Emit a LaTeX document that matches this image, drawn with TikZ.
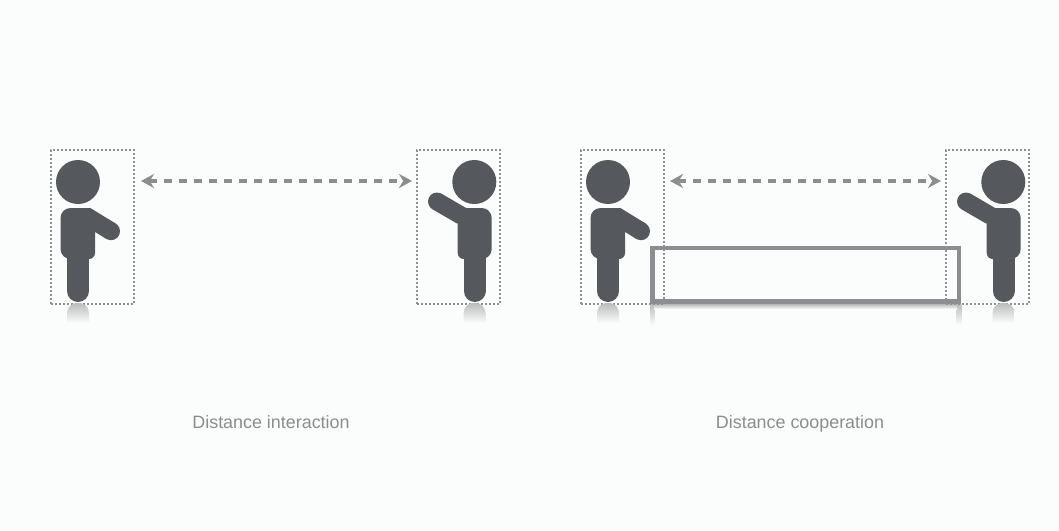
\documentclass[tikz,border=0pt]{standalone}
\usepackage{fontspec}
\setmainfont{Liberation Sans}
\usetikzlibrary{arrows.meta}
\definecolor{paper}{HTML}{FBFDFD}
\definecolor{bodygrey}{HTML}{55595E}
\definecolor{linegrey}{HTML}{8B8E90}
\definecolor{dotgrey}{HTML}{8E9193}
\definecolor{textgrey}{HTML}{8A8D8F}
\tikzset{
  framebox/.style = {draw=dotgrey, line width=2pt, dash pattern=on 2pt off 2pt,
                   minimum width=83pt, minimum height=154pt, inner sep=0pt},
  flow/.style   = {{Stealth[length=13pt,width=14pt]}-{Stealth[length=13pt,width=14pt]},
                   draw=linegrey, line width=3.2pt, dash pattern=on 8pt off 7pt},
  tablebox/.style = {draw=linegrey, line width=4.4pt, minimum width=306.7pt,
                   minimum height=53.5pt, inner sep=0pt},
  caption/.style = {text=textgrey, font=\fontsize{17.9}{20}\selectfont, inner sep=0pt, anchor=base},
  mirrorfade/.style = {top color=linegrey!60, bottom color=paper, draw=none},
  % arm held low, hand to the right
  personlow/.pic = {
    \shade[mirrorfade] (-25.5,96) [rounded corners=10pt] -- (-25.5,76) -- (-3.5,76)
      [sharp corners] -- (-3.5,96) -- cycle;
    \fill[bodygrey] (-14.5,-45) circle (22);
    \fill[bodygrey] (-3,-19) [rounded corners=10pt] -- (-32,-19) -- (-32,32)
      [sharp corners] -- (-25.5,32) -- (-3.5,32) [rounded corners=6pt] -- (2.5,32)
      [sharp corners] -- (2.5,-15.7) -- cycle;
    \draw[bodygrey, line width=18pt] (-7,-11.4) -- (18.5,4.2);
    \fill[bodygrey] (18.5,4.2) circle (9);
    \draw[bodygrey, line width=22pt, line cap=round] (-14.5,26) -- (-14.5,64);
  },
  % arm raised, hand to the left
  personhigh/.pic = {
    \shade[mirrorfade] (5,96) [rounded corners=10pt] -- (5,76) -- (27,76)
      [sharp corners] -- (27,96) -- cycle;
    \fill[bodygrey] (15.8,-45) circle (22);
    \fill[bodygrey] (7.5,-19) [rounded corners=10pt] -- (33.2,-19) -- (33.2,32)
      [sharp corners] -- (27,32) -- (5,32) [rounded corners=6pt] -- (-0.8,32)
      [sharp corners] -- (-0.8,-6) -- cycle;
    \draw[bodygrey, line width=18pt] (3.3,-11.1) -- (-21.5,-25.5);
    \fill[bodygrey] (-21.5,-25.5) circle (9);
    \draw[bodygrey, line width=22pt, line cap=round] (16,26) -- (16,64);
  },
}
\begin{document}
\begin{tikzpicture}[x=1pt,y=-1pt]
    \fill[paper] (0,0) rectangle (1059,530);
    % faded copy of the long box
    \shade[mirrorfade] (650,304) rectangle (654.5,325);
    \shade[mirrorfade] (956.7,304) rectangle (961.3,325);
    \shade[top color=linegrey!70, bottom color=paper, draw=none] (654,303.5) rectangle (957,309);
    \node[tablebox] (table) at (805.65,274.75) {};
    % frames
    \node[framebox] (leftA) at (92.5,227) {};
    \node[framebox] (rightA) at (458.5,227) {};
    \node[framebox] (leftB) at (622.5,227) {};
    \node[framebox] (rightB) at (987.5,227) {};
    \pic at (leftA.center) {personlow};
    \pic at (rightA.center) {personhigh};
    \pic at (leftB.center) {personlow};
    \pic at (rightB.center) {personhigh};
    % distance arrows
    \coordinate (endA1) at (141,181);
    \coordinate (endA2) at (412,181);
    \coordinate (endB1) at (670,181);
    \coordinate (endB2) at (941,181);
    \draw[flow] (endA1) -- (endA2);
    \draw[flow] (endB1) -- (endB2);
    \node[caption] (capA) at (271,428) {Distance interaction};
    \node[caption] (capB) at (800,428) {Distance cooperation};
  \end{tikzpicture}
\end{document}
